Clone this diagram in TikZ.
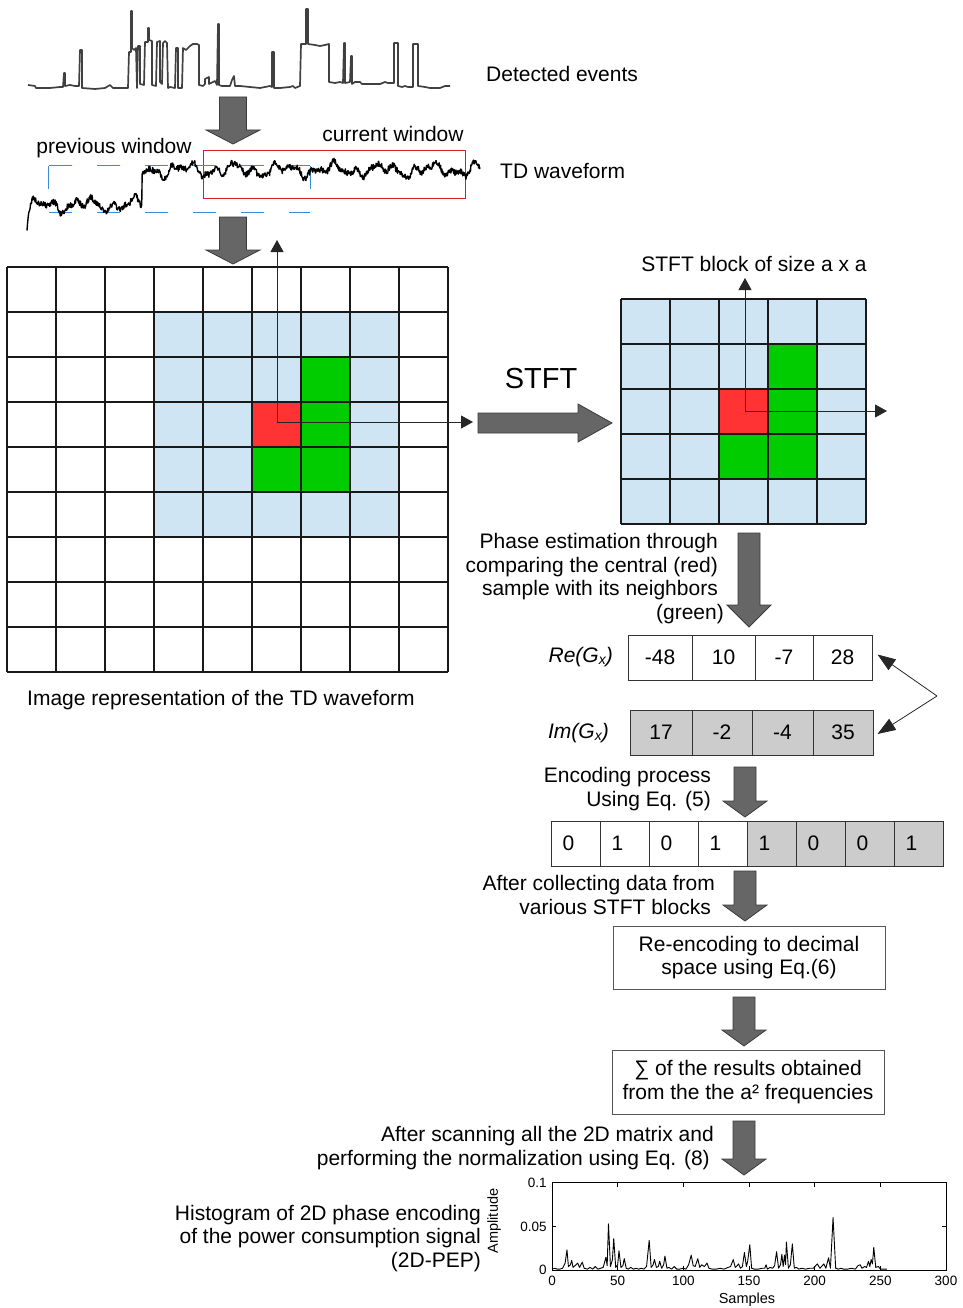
\documentclass[tikz,border=0pt]{standalone}
\usepackage{fontspec}
\setmainfont{Liberation Sans}
\usetikzlibrary{arrows.meta}

\definecolor{cellblue}{HTML}{D0E5F4}
\definecolor{cellred}{HTML}{FF3333}
\definecolor{cellgreen}{HTML}{00CC00}
\definecolor{shade}{HTML}{CCCCCC}
\definecolor{fatfill}{HTML}{666666}
\definecolor{fatline}{HTML}{3A3A3A}
\definecolor{winblue}{HTML}{3C8CDC}
\definecolor{winred}{HTML}{D42020}
\definecolor{boxline}{HTML}{555555}

% block arrow pointing down: x, top, tip, shaft half-width, head half-width, head length
\newcommand\fatdown[6]{%
  \filldraw[fatarrow] ({#1-#4},#2) -- ({#1+#4},#2) -- ({#1+#4},{#3-#6}) -- ({#1+#5},{#3-#6})
    -- (#1,#3) -- ({#1-#5},{#3-#6}) -- ({#1-#4},{#3-#6}) -- cycle;}

\begin{document}
\begin{tikzpicture}[x=1pt,y=-1pt,
  font=\fontsize{21}{23.7}\selectfont,
  txt/.style={inner sep=0pt},
  gridline/.style={line width=1.1pt, draw=black!90},
  conn/.style={line width=0.9pt, draw=black!85, -{Triangle[length=12pt,width=13pt]}},
  dconn/.style={line width=0.8pt, draw=black!85, -{Triangle[length=18pt,width=13pt]}},
  fatarrow/.style={fill=fatfill, draw=fatline, line width=0.8pt},
  valcell/.style={draw=black!80, line width=1pt, minimum height=45pt, inner sep=0pt},
  bitcell/.style={draw=black!80, line width=1pt, minimum height=45pt, minimum width=49pt, inner sep=0pt},
  procbox/.style={draw=boxline, line width=1pt, minimum width=272pt, align=center, inner sep=0pt},
  eventline/.style={line width=1.7pt, draw=black!75, line join=round},
  tdline/.style={line width=1.4pt, draw=black, line join=round},
  ticklbl/.style={inner sep=0pt, font=\fontsize{13.5}{14}\selectfont},
]
\useasboundingbox (0,0) rectangle (962,1308);

% ---------- detected events ----------
\draw[eventline] plot coordinates {(28,85) (35,86) (36,88) (50,88) (60,87) (63,87) (64,73) (65,73) (65,86)
  (70,85) (75,86) (79,86) (80,50) (82,50) (82,88) (95,89) (105,88) (110,85) (113,88) (128,88)
  (129,52) (131,52) (131,11) (132,11) (132,48) (134,50) (136,48) (137,88) (138,46) (140,46) (140,84)
  (144,85) (145,42) (148,42) (148,28) (149,28) (149,40) (152,41) (152,85) (156,86) (157,42) (160,41)
  (160,82) (162,84) (163,43) (165,41) (167,43) (168,88) (170,87) (175,88) (176,48) (178,48) (178,88)
  (182,88) (183,48) (186,50) (190,46) (193,44) (197,44) (199,45) (199,85) (203,86) (205,84) (205,79)
  (207,78) (209,77) (209,84) (213,82) (215,81) (217,85) (218,24) (219,24) (219,85) (222,86) (230,86)
  (232,80) (234,76) (235,86) (240,86) (250,87) (260,88) (270,86) (272,87) (272,52) (274,52) (274,88)
  (280,88) (290,87) (293,86) (295,88) (300,86) (301,44) (306,44) (306,9) (308,9) (308,44) (315,45)
  (320,46) (325,45) (329,44) (329,82) (335,83) (340,82) (343,83) (344,43) (345,43) (345,83) (350,82)
  (351,56) (352,56) (352,84) (355,82) (360,82) (362,84) (370,84) (380,84) (385,82) (388,83) (394,83)
  (394,43) (398,43) (398,86) (402,87) (405,86) (408,87) (413,87) (413,44) (418,44) (418,86) (425,87)
  (430,88) (440,88) (445,86) (450,86)};
\node[txt, anchor=west] (evlbl) at (486,74) {Detected events};

\fatdown{233}{97}{144}{13.5}{27}{14}

% ---------- time-domain waveform and windows ----------
\draw[winred, line width=1pt] (203,151) rectangle (465,198);
\draw[winblue, line width=1pt, dash pattern=on 23pt off 25pt] (49,166) -- (310,166);
\draw[winblue, line width=1pt, dash pattern=on 23pt off 25pt] (49,212) -- (310,212);
\draw[winblue, line width=1pt] (48,166) -- (48,189);
\draw[winblue, line width=1pt] (310,166) -- (310,189);
\pgfmathsetseed{11}
\draw[tdline] plot[domain=27:480, samples=1000, variable=\t]
  (\t, {170 + 35*(\t<142) + 24*exp(-(\t-27)/2.5) + 4*sin(\t*7.3) + 3.5*sin(\t*17.9+40)
        + 2*sin(\t*31+10) + 3*rand});
\node[txt] (prevlbl) at (114,148) {previous window};
\node[txt] (curlbl) at (393,134) {current window};
\node[txt, anchor=west] (tdlbl) at (500,171) {TD waveform};

\fatdown{233}{217}{264}{13.5}{27}{14}

% ---------- image representation grid ----------
\fill[cellblue] (154,312) rectangle (399,537);
\fill[cellred] (252,402) rectangle (301,447);
\fill[cellgreen] (301,357) rectangle (350,492);
\fill[cellgreen] (252,447) rectangle (301,492);
\foreach \i in {0,...,9} \draw[gridline] ({7+49*\i},267) -- ({7+49*\i},672);
\foreach \j in {0,...,9} \draw[gridline] (7,{267+45*\j}) -- (448,{267+45*\j});
\coordinate (lc) at (277,422);
\coordinate (lup) at (277,240);
\coordinate (lrt) at (473,422);
\draw[conn] (lc) -- (lup);
\draw[conn] (lc) -- (lrt);
\node[txt, anchor=west] (imglbl) at (27,700) {Image representation of the TD waveform};

% ---------- STFT step ----------
\filldraw[fatarrow] (478,413) -- (578,413) -- (578,404) -- (612,423) -- (578,442) -- (578,433) -- (478,433) -- cycle;
\node[txt] (stftlbl) at (541,379) {\fontsize{29}{30}\selectfont STFT};

\fill[cellblue] (621,299) rectangle (866,524);
\fill[cellred] (719,389) rectangle (768,434);
\fill[cellgreen] (768,344) rectangle (817,479);
\fill[cellgreen] (719,434) rectangle (768,479);
\foreach \i in {0,...,5} \draw[gridline] ({621+49*\i},299) -- ({621+49*\i},524);
\foreach \j in {0,...,5} \draw[gridline] (621,{299+45*\j}) -- (866,{299+45*\j});
\coordinate (rc) at (745,411);
\coordinate (rup) at (745,278);
\coordinate (rrt) at (887,411);
\draw[conn] (rc) -- (rup);
\draw[conn] (rc) -- (rrt);
\node[txt] (blocklbl) at (754,264) {STFT block of size a x a};

% ---------- phase estimation ----------
\fatdown{749}{533}{627}{11}{22}{22}
\node[txt, anchor=east, align=right] (phaselbl) at (718,578.5)
  {Phase estimation through\\comparing the central (red)\\sample with its neighbors\\(green)\hspace*{-6pt}};

\node[txt, anchor=east] (relbl) at (613,657) {\textit{Re(G\raisebox{-2pt}{\fontsize{14}{14}\selectfont x})}};
\node[valcell, minimum width=64pt] (re1) at (660,657.5) {-48};
\node[valcell, minimum width=63pt] (re2) at (723.5,657.5) {10};
\node[valcell, minimum width=58pt] (re3) at (784,657.5) {-7};
\node[valcell, minimum width=59pt] (re4) at (842.5,657.5) {28};

\node[txt, anchor=east] (imlbl) at (609,733) {\textit{Im(G\raisebox{-2pt}{\fontsize{14}{14}\selectfont x})}};
\node[valcell, fill=shade, minimum width=62pt] (im1) at (661,732.5) {17};
\node[valcell, fill=shade, minimum width=60pt] (im2) at (722,732.5) {-2};
\node[valcell, fill=shade, minimum width=61pt] (im3) at (782.5,732.5) {-4};
\node[valcell, fill=shade, minimum width=60pt] (im4) at (843,732.5) {35};

\coordinate (bend) at (937,696);
\draw[dconn] (bend) -- ([shift={(5,-3)}]re4.east);
\draw[dconn] (bend) -- ([shift={(4,1.5)}]im4.east);

% ---------- encoding ----------
\fatdown{745}{767}{817}{11}{22}{16}
\node[txt, anchor=east, align=right] (enclbl) at (711,789) {Encoding process\\Using Eq. (5)};

\foreach \v [count=\k from 0] in {0,1,0,1} {
  \node[bitcell] (bit\k) at ({575.5+49*\k},843.5) {};
  \node[txt] (bitv\k) at ([xshift=-7pt]bit\k.center) {\v};
}
\foreach \v [count=\k from 4] in {1,0,0,1} {
  \node[bitcell, fill=shade] (bit\k) at ({575.5+49*\k},843.5) {};
  \node[txt] (bitv\k) at ([xshift=-7pt]bit\k.center) {\v};
}

\fatdown{745}{871}{921}{11}{22}{16}
\node[txt, anchor=east, align=right] (collbl) at (715,895) {After collecting data from\\various STFT blocks\hspace*{4pt}};

\node[procbox, minimum height=63pt] (reenc) at (749,957.5) {Re-encoding to decimal\\space using Eq.(6)};

\fatdown{744}{997}{1046}{11}{22}{16}

\node[procbox, minimum height=64pt] (sumbox) at (748,1082) {∑ of the results obtained\\from the the a² frequencies};

\fatdown{744}{1121}{1175}{11}{22}{16}
\node[txt, anchor=east, align=right] (scanlbl) at (714,1148) {After scanning all the 2D matrix and\\performing the normalization using Eq. (8)\hspace*{4pt}};

\node[txt, anchor=east, align=right] (histlbl) at (481,1238.5) {Histogram of 2D phase encoding\\of the power consumption signal\\(2D-PEP)};

% ---------- 2D-PEP histogram ----------
\coordinate (hO) at (552,1270);
\begin{scope}[shift={(hO)}, x=1.3133pt, y=873pt]
  \draw[line width=0.8pt] (0,0) rectangle (300,0.1);
  \foreach \t in {0,50,...,300} {
    \draw[line width=0.6pt] (\t,0) -- (\t,0.0045);
    \draw[line width=0.6pt] (\t,0.1) -- (\t,0.0955);
    \node[ticklbl, anchor=north] (xt\t) at (\t,-0.0065) {\t};
  }
  \foreach \v/\n in {0/a,0.05/b,0.1/c} {
    \draw[line width=0.6pt] (0,\v) -- (3,\v);
    \draw[line width=0.6pt] (300,\v) -- (297,\v);
    \node[ticklbl, anchor=east] (yt\n) at (-4,\v) {\v};
  }
  \draw[line width=0.9pt, line join=round] plot coordinates {(0,0.001) (2,0.002) (4,0.001) (6,0.001) (8,0.002)
    (10,0.008) (11.4,0.023) (12.5,0.004) (14,0.006) (15,0.011) (16,0.003) (17.5,0.005) (19.5,0.008)
    (21,0.003) (23,0.009) (24.5,0.002) (27,0.001) (29,0.003) (31,0.001) (33,0.004) (35,0.001) (37,0.002)
    (39,0.003) (41,0.0145) (42,0.005) (43,0.053) (44.5,0.004) (46,0.012) (47,0.036) (48.5,0.003)
    (50,0.006) (51,0.022) (52.5,0.003) (54,0.005) (55,0.013) (56.5,0.002) (58,0.001) (60,0.003)
    (62,0.001) (64,0.002) (66,0.001) (68,0.002) (70,0.001) (72,0.004) (74,0.034) (75.5,0.003) (77,0.006)
    (78,0.012) (79.5,0.003) (81,0.004) (82,0.010) (83.5,0.002) (85,0.006) (86,0.016) (87.5,0.002)
    (89,0.003) (91,0.001) (93,0.004) (95,0.001) (97,0.001) (100,0.002) (102,0.001) (104,0.006)
    (106,0.017) (107.5,0.005) (109,0.004) (111,0.013) (112.5,0.003) (114,0.006) (116,0.004) (118,0.008)
    (119.5,0.002) (122,0.001) (125,0.001) (128,0.002) (131,0.001) (134,0.003) (136,0.004) (138,0.012)
    (139.5,0.003) (141,0.005) (142,0.007) (143.5,0.002) (145,0.004) (146.5,0.020) (148,0.004) (149,0.010)
    (150.6,0.029) (152,0.002) (154,0.001) (157,0.001) (160,0.002) (162,0.002) (163,0.006) (164,0.001)
    (166,0.003) (168,0.002) (169.5,0.005) (171,0.021) (172.5,0.002) (174,0.006) (175,0.018) (176,0.004)
    (177,0.017) (177.8,0.006) (178.5,0.032) (180,0.002) (181.5,0.006) (183,0.030) (184.5,0.002)
    (186,0.003) (188,0.001) (190,0.002) (193,0.001) (196,0.002) (199,0.002) (202,0.007) (204,0.002)
    (207,0.007) (208.5,0.002) (210.6,0.014) (212,0.002) (214,0.060) (216,0.002) (218,0.001) (220,0.002)
    (222,0.001) (225,0.001) (228,0.002) (231,0.001) (233,0.005) (234.7,0.006) (236,0.002) (238,0.004)
    (239.5,0.003) (241,0.010) (242,0.004) (243,0.012) (244,0.007) (245,0.026) (246.5,0.003) (248.6,0.004)
    (250,0.001) (253,0.001) (255,0.001)};
\end{scope}
\node[ticklbl, font=\fontsize{14.5}{15}\selectfont] (xaxlbl) at (747,1300) {Samples};
\node[ticklbl, font=\fontsize{14.5}{15}\selectfont, rotate=90] (yaxlbl) at (494,1221) {Amplitude};
\end{tikzpicture}
\end{document}
